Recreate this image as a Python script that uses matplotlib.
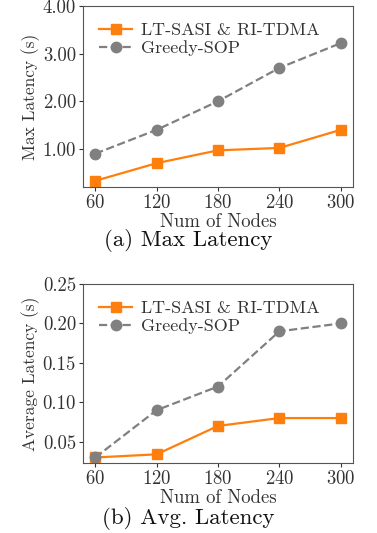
import matplotlib
matplotlib.use("Agg")
import matplotlib.pyplot as plt

nodes = [60, 120, 180, 240, 300]
max_lt = [0.33, 0.70, 0.97, 1.02, 1.40]
max_greedy = [0.90, 1.40, 2.00, 2.70, 3.22]
avg_lt = [0.030, 0.034, 0.070, 0.080, 0.080]
avg_greedy = [0.030, 0.090, 0.120, 0.190, 0.200]

plt.rcParams["font.family"] = ["cmr10", "DejaVu Serif"]
plt.rcParams["axes.formatter.use_mathtext"] = True
plt.rcParams["mathtext.fontset"] = "cm"

TXT = "#333333"
fig = plt.figure(figsize=(3.77, 5.33), dpi=100)
W, H = 377, 533

def panel(rect, lt, greedy, ylabel, ylim, yticks, fmt, caption, cap_y):
    l, t, r, b = rect
    ax = fig.add_axes([l / W, 1 - b / H, (r - l) / W, (b - t) / H])
    ax.plot(nodes, lt, color="#ff7f0e", marker="s", markersize=7.5, lw=1.6,
            label="LT-SASI & RI-TDMA")
    ax.plot(nodes, greedy, color="#808080", marker="o", markersize=7.5, lw=1.6,
            ls="--", label="Greedy-SOP")
    ax.set_xticks(nodes)
    ax.set_ylim(*ylim)
    ax.set_yticks(yticks)
    ax.set_yticklabels([fmt.format(v) for v in yticks])
    ax.tick_params(labelsize=13.5, colors=TXT, length=3, pad=2)
    for s in ax.spines.values():
        s.set_color("#555555")
    ax.set_xlabel("Num of Nodes", fontsize=13.5, color=TXT, labelpad=1)
    ax.set_ylabel(ylabel, fontsize=12.5, color=TXT, labelpad=2)
    ax.legend(loc="upper left", frameon=False, fontsize=13, handlelength=1.8,
              handletextpad=0.5, borderaxespad=0.5, labelspacing=0.15,
              labelcolor=TXT)
    fig.text(0.5, 1 - cap_y / H, caption, ha="center", va="center", fontsize=16.5,
             color="#111111")
    return ax

panel((83, 6, 353, 187), max_lt, max_greedy, "Max Latency (s)", (0.2, 4.0),
      [1.0, 2.0, 3.0, 4.0], "{:.2f}", "(a) Max Latency", 241)
panel((83, 284, 353, 463), avg_lt, avg_greedy, "Average Latency (s)", (0.023, 0.25),
      [0.05, 0.10, 0.15, 0.20, 0.25], "{:.2f}", "(b) Avg. Latency", 518)

fig.savefig("out.png", dpi=100)
